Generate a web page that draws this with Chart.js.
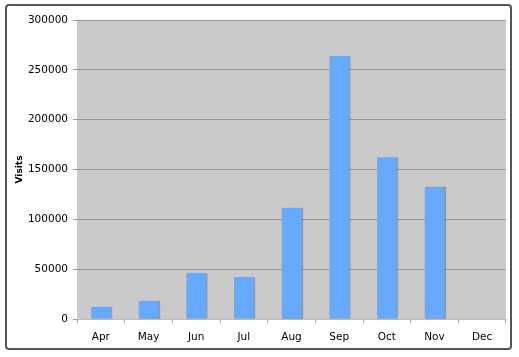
<!DOCTYPE html>
<html><head><meta charset="utf-8">
<script src="https://cdn.jsdelivr.net/npm/chart.js@4"></script>
<style>html,body{margin:0;padding:0;background:#fff;}#wrap{width:519px;height:357px;}</style>
</head><body><div id="wrap"><canvas id="c" width="519" height="357"></canvas></div>
<script>
const categories = ['Apr','May','Jun','Jul','Aug','Sep','Oct','Nov','Dec'];
const visits = [12000, 18000, 46000, 42000, 111000, 264000, 162000, 132000, 0];
const yTicks = [0, 50000, 100000, 150000, 200000, 250000, 300000];

const frame = {
  id: 'frame',
  beforeDraw(chart) {
    const {ctx, chartArea: a} = chart;
    ctx.save();
    ctx.fillStyle = '#cacaca';
    ctx.fillRect(a.left, a.top, a.right - a.left, a.bottom - a.top);
    ctx.restore();
  },
  afterDraw(chart) {
    const ctx = chart.ctx;
    ctx.save();
    ctx.strokeStyle = '#555';
    ctx.lineWidth = 2;
    ctx.beginPath();
    ctx.roundRect(6, 5, 505, 344, 3);
    ctx.stroke();
    ctx.restore();
  },
  beforeDatasetDraw(chart) {
    const ctx = chart.ctx;
    ctx.save();
    ctx.shadowColor = 'rgba(0,0,0,0.25)';
    ctx.shadowOffsetX = 1.5;
    ctx.shadowOffsetY = 0;
    ctx.shadowBlur = 1;
  },
  afterDatasetDraw(chart) { chart.ctx.restore(); }
};

new Chart(document.getElementById('c'), {
  type: 'bar',
  data: { labels: categories, datasets: [{ data: visits, backgroundColor: '#66aaff', borderWidth: 0, categoryPercentage: 1, barPercentage: 0.41 }] },
  options: {
    responsive: false, animation: false, devicePixelRatio: 1,
    layout: { padding: { left: 14, top: 20, right: 13, bottom: 8 } },
    plugins: { legend: { display: false }, tooltip: { enabled: false } },
    scales: {
      x: {
        offset: true,
        grid: { offset: true, drawOnChartArea: false, color: '#aaa', tickLength: 4 },
        border: { display: true, color: '#bbb' },
        ticks: { color: '#000', font: { family: 'DejaVu Sans', size: 10.5 }, padding: 8 },
        afterFit(s) { s.height = 30; }
      },
      y: {
        min: 0, max: 300000,
        afterBuildTicks(s) { s.ticks = yTicks.map(v => ({ value: v })); },
        grid: { color: '#999', tickLength: 4 },
        border: { display: false },
        ticks: { color: '#000', font: { family: 'DejaVu Sans', size: 10.5 }, padding: 5, callback: v => String(v) },
        title: { display: true, text: 'Visits', color: '#000', font: { family: 'DejaVu Sans', size: 9, weight: 'bold' }, padding: 0 },
        afterFit(s) { s.width = 63; }
      }
    }
  },
  plugins: [frame]
});
</script></body></html>
